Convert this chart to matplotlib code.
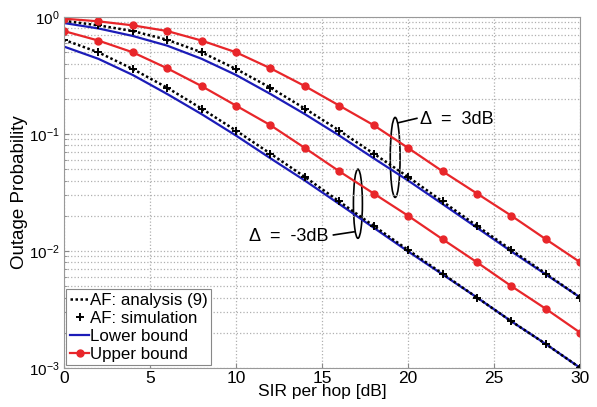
import numpy as np
import matplotlib
matplotlib.use('Agg')
import matplotlib.pyplot as plt
from matplotlib.patches import Ellipse

plt.rcParams['font.family'] = ['Liberation Sans', 'DejaVu Sans']

# SIR per hop [dB]
sir = [0, 2, 4, 6, 8, 10, 12, 14, 16, 18, 20, 22, 24, 26, 28, 30]

# Delta = 3dB
ub_p3 = [0.97, 0.92, 0.85, 0.76, 0.63, 0.50, 0.365, 0.257, 0.175, 0.119,
         0.076, 0.048, 0.031, 0.020, 0.0126, 0.0080]
af_p3 = [0.93, 0.85, 0.76, 0.64, 0.50, 0.36, 0.249, 0.165, 0.107, 0.068,
         0.043, 0.0265, 0.0164, 0.0102, 0.0064, 0.0040]
sim_p3 = [0.93, 0.85, 0.76, 0.64, 0.50, 0.36, 0.249, 0.165, 0.107, 0.068,
          0.043, 0.0265, 0.0164, 0.0102, 0.0064, 0.0040]
lb_p3 = [0.89, 0.80, 0.69, 0.57, 0.44, 0.32, 0.22, 0.148, 0.097, 0.062,
         0.040, 0.0252, 0.0158, 0.0099, 0.0063, 0.0040]

# Delta = -3dB
ub_m3 = [0.76, 0.63, 0.50, 0.365, 0.257, 0.175, 0.119, 0.076, 0.048, 0.031,
         0.020, 0.0126, 0.0080, 0.0050, 0.0032, 0.0020]
af_m3 = [0.64, 0.50, 0.36, 0.249, 0.165, 0.107, 0.068, 0.043, 0.0265, 0.0164,
         0.0102, 0.0064, 0.0040, 0.0025, 0.0016, 0.0010]
sim_m3 = [0.64, 0.50, 0.36, 0.249, 0.165, 0.107, 0.068, 0.043, 0.0265, 0.0164,
          0.0102, 0.0064, 0.0040, 0.0025, 0.0016, 0.0010]
lb_m3 = [0.56, 0.44, 0.32, 0.22, 0.148, 0.097, 0.062, 0.040, 0.0252, 0.0158,
         0.0099, 0.0063, 0.0040, 0.0025, 0.0016, 0.0010]

red = '#e8262a'
blue = '#1c1cb8'
fs = 12.5

fig = plt.figure(figsize=(5.97, 4.07), dpi=100)
ax = fig.add_axes([0.107, 0.096, 0.865, 0.862])

for ub, af, sim, lb in [(ub_p3, af_p3, sim_p3, lb_p3), (ub_m3, af_m3, sim_m3, lb_m3)]:
    ax.semilogy(sir, lb, '-', color=blue, lw=1.6, label='Lower bound')
    ax.semilogy(sir, af, color='k', lw=1.8, ls=(0, (1, 1)), label='AF: analysis (9)')
    ax.semilogy(sir, sim, '+', color='k', ms=6, mew=1.4, label='AF: simulation')
    ax.semilogy(sir, ub, '-o', color=red, lw=1.6, ms=5, mec=red, label='Upper bound')

ax.set_xlim(0, 30)
ax.set_ylim(1e-3, 1)
ax.set_xticks([0, 5, 10, 15, 20, 25, 30])
ax.grid(True, which='major', ls=':', color='#b0b0b0', lw=0.9)
ax.grid(True, which='minor', axis='y', ls=':', color='#b0b0b0', lw=0.9)
ax.tick_params(which='both', direction='in', color='#888888')
ax.tick_params(axis='x', pad=2, labelsize=fs)
ax.tick_params(axis='y', pad=3, labelsize=11)
for sp in ax.spines.values():
    sp.set_color('#999999')

ax.set_xlabel('SIR per hop [dB]', fontsize=fs, labelpad=-1)
ax.set_ylabel('Outage Probability', fontsize=13.5)
ax.yaxis.set_label_coords(-0.069, 0.5)

# ellipses + labels
ax.add_patch(Ellipse((0.6415, 0.600), 0.019, 0.228, transform=ax.transAxes,
                     fill=False, ec='k', lw=1.2))
ax.add_patch(Ellipse((0.5694, 0.468), 0.0174, 0.197, transform=ax.transAxes,
                     fill=False, ec='k', lw=1.2))
ax.plot([0.648, 0.6835], [0.699, 0.7114], 'k-', lw=1.2, transform=ax.transAxes)
ax.plot([0.522, 0.562], [0.379, 0.388], 'k-', lw=1.2, transform=ax.transAxes)
ax.text(0.690, 0.707, '\u0394  =  3dB', transform=ax.transAxes, fontsize=13,
        va='center', ha='left')
ax.text(0.512, 0.375, '\u0394  =  -3dB', transform=ax.transAxes, fontsize=13,
        va='center', ha='right')

h, l = ax.get_legend_handles_labels()
order = [1, 2, 0, 3]
leg = ax.legend([h[i] for i in order], [l[i] for i in order], loc='lower left',
                fontsize=12.2, handlelength=1.15, handletextpad=0.05,
                borderpad=0.2, labelspacing=0.18, borderaxespad=0.15,
                fancybox=False, framealpha=1, edgecolor='#888888')
leg.get_frame().set_linewidth(0.8)

plt.savefig('out.png', dpi=100)
